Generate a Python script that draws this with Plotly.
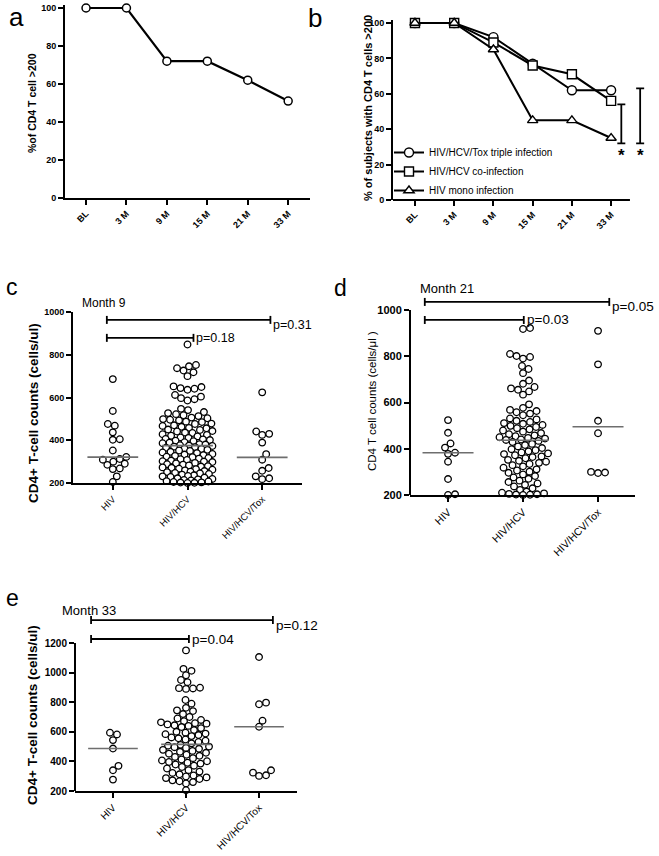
import numpy as np
import plotly.graph_objects as go

W, H = 659, 856
FONT = "Arial, 'Liberation Sans', Helvetica, sans-serif"

# ---------------- data ----------------
timepoints = ["BL", "3 M", "9 M", "15 M", "21 M", "33 M"]
pct_cd4_over200 = [100, 100, 72, 72, 62, 51]
pct_triple = [100, 100, 92, 77, 62, 62]
pct_coinf = [100, 100, 89, 76, 71, 56]
pct_mono = [100, 100, 85, 45, 45, 35]
series_names = ["HIV/HCV/Tox triple infection", "HIV/HCV co-infection", "HIV mono infection"]

groups = ["HIV", "HIV/HCV", "HIV/HCV/Tox"]

m9_hiv = [686, 537, 476, 468, 437, 405, 402, 352, 322, 312, 309, 300, 290, 285, 268, 265, 231, 205]
m9_hcv = [848, 752, 746, 737, 726, 718, 700, 652, 649, 644, 641, 636, 612, 604, 597, 592, 586,
          547, 541, 532, 527, 522, 517, 513, 506, 503, 499, 496,
          493, 487, 485, 478, 476, 470, 467, 463, 458, 456, 450, 448, 443, 441, 436, 434, 428, 425,
          421, 418, 413, 411, 406, 404, 401, 398, 396, 391, 389, 386, 382, 380, 377,
          375, 373, 370, 368, 365, 361, 359, 355, 352, 350, 346, 343, 340, 336, 333, 330, 327, 323,
          321, 317, 314, 311, 308, 305, 302, 300,
          298, 294, 292, 288, 286, 282, 279, 277, 273, 271, 267, 265, 262, 259, 256, 253, 251, 247,
          245, 242, 239, 236, 233, 231, 228, 225, 222, 219, 217, 214, 212, 209, 207, 205, 203, 202, 201, 200]
m9_tox = [624, 441, 430, 425, 389, 335, 309, 270, 257, 231, 222, 218]
m9_medians = [321, 375, 320]
m9_pvals = ["p=0.18", "p=0.31"]

m21_hiv = [524, 469, 423, 405, 383, 378, 344, 269, 203, 200]
m21_hcv = [922, 918, 810, 801, 797, 790, 758, 745, 727, 695, 681, 667, 661, 655, 648, 634, 592, 577,
           568, 563, 558, 552, 545, 531, 527, 521, 516, 511, 508, 503, 499, 494, 489, 484, 479, 474,
           468, 463, 458, 454, 450, 447, 444, 440, 438,
           434, 429, 421, 416, 410, 403, 398, 394, 389, 384, 380, 377, 372, 367, 364, 359, 352, 348,
           344, 339, 334, 329, 324, 318, 311, 306, 301, 296, 289, 282, 276, 270, 262, 256, 250, 244,
           237, 229, 222, 215, 210, 207, 205, 203, 202, 201, 200]
m21_tox = [910, 765, 521, 467, 300, 297, 295]
m21_medians = [383, 437, 495]
m21_pvals = ["p=0.03", "p=0.05"]

m33_hiv = [594, 582, 544, 487, 370, 340, 277]
m33_hcv = [1150, 1025, 1012, 982, 950, 935, 898, 895, 893, 890, 815, 790, 762, 745, 740, 720, 700,
           690, 680, 672, 664, 658, 655, 650, 644, 640, 632, 625, 612, 600, 594, 588, 584, 578, 571,
           562, 556, 548, 540, 531, 522,
           512, 506, 500, 496, 491, 485, 478, 471, 465, 458, 452, 445, 438, 430, 422, 413, 406, 401,
           396, 391, 385, 379, 371, 362, 352, 341, 331, 322, 313, 305, 298, 292, 287, 281, 272, 266,
           260, 251, 205]
m33_tox = [1105, 797, 786, 675, 634, 340, 324, 306, 302]
m33_medians = [487, 515, 634]
m33_pvals = ["p=0.04", "p=0.12"]


# ---------------- helpers ----------------
def xd(p0, p1):
    return [p0 / W, p1 / W]


def yd(top, bottom):
    return [1 - bottom / H, 1 - top / H]


def swarm_offsets(values, ppu_y, diam=6.8, cap=25.0, step=0.5):
    vals = np.asarray(values, float)
    order = np.argsort(vals, kind="stable")
    ys = vals * ppu_y
    cands = [0.0]
    k = step
    while k <= cap + 1e-9:
        cands += [k, -k]
        k += step
    cands = np.array(cands)
    offs = np.zeros(len(vals))
    px, py = [], []
    for idx in order:
        y = ys[idx]
        best = 0.0
        if px:
            apx = np.array(px)
            apy = np.array(py)
            near = np.abs(apy - y) < diam
            if near.any():
                dy2 = (apy[near] - y) ** 2
                d2 = (cands[:, None] - apx[near][None, :]) ** 2 + dy2[None, :]
                mind = d2.min(axis=1)
                ok = np.where(mind >= diam ** 2)[0]
                best = cands[ok[0]] if len(ok) else cands[np.argmax(mind)]
        offs[idx] = best
        px.append(best)
        py.append(y)
    return offs


def base_axis(**kw):
    d = dict(showline=True, linewidth=2, linecolor="black", ticks="outside", ticklen=5,
             tickwidth=2, tickcolor="black", showgrid=False, zeroline=False,
             tickfont=dict(family=FONT, size=9, color="black", weight="bold"))
    d.update(kw)
    return d


fig = go.Figure()
shapes = []
annotations = []

# ---------------- panel a ----------------
fig.add_trace(go.Scatter(
    x=list(range(len(timepoints))), y=pct_cd4_over200, mode="lines+markers",
    line=dict(color="black", width=2.2),
    marker=dict(symbol="circle", size=8, color="white", line=dict(color="black", width=1.5)),
    xaxis="x", yaxis="y", showlegend=False, cliponaxis=False, hoverinfo="skip"))

# ---------------- panel b ----------------
for vals, name, sym in zip([pct_triple, pct_coinf, pct_mono], series_names,
                           ["circle", "square", "triangle-up"]):
    fig.add_trace(go.Scatter(
        x=list(range(len(timepoints))), y=vals, mode="lines+markers", name=name,
        line=dict(color="black", width=2),
        marker=dict(symbol=sym, size=9, color="white", line=dict(color="black", width=1.4)),
        xaxis="x2", yaxis="y2", showlegend=True, cliponaxis=False, hoverinfo="skip"))

# significance brackets on b
for xb, y0, y1 in [(5.26, 32, 54), (5.74, 32, 63)]:
    shapes.append(dict(type="line", xref="x2", yref="y2", x0=xb, x1=xb, y0=y0, y1=y1,
                       line=dict(color="black", width=1.8)))
    for yy in (y0, y1):
        shapes.append(dict(type="line", xref="x2", yref="y2", xsizemode="pixel", xanchor=xb,
                           x0=-4, x1=4, y0=yy, y1=yy, line=dict(color="black", width=1.8)))
    annotations.append(dict(text="<b>*</b>", xref="x2", yref="y2", x=xb, y=y0 - 7,
                            showarrow=False, font=dict(family=FONT, size=17, color="black"),
                            xanchor="center", yanchor="middle"))
# x-axis line of b (stops before the brackets)
shapes.append(dict(type="line", xref="x2", yref="y2 domain", x0=-0.56, x1=5.48, y0=0, y1=0,
                   line=dict(color="black", width=2)))


# ---------------- scatter panels ----------------
def scatter_panel(xa, ya, data, medians, pvals, ppu_x, ppu_y, brackets, xfs):
    for gi, vals in enumerate(data):
        offs = swarm_offsets(vals, ppu_y)
        fig.add_trace(go.Scatter(
            x=gi + offs / ppu_x, y=vals, mode="markers",
            marker=dict(symbol="circle", size=6.6, color="white", line=dict(color="black", width=1.3)),
            xaxis=xa, yaxis=ya, showlegend=False, cliponaxis=False, hoverinfo="skip"))
    for gi, m in enumerate(medians):
        fig.add_trace(go.Scatter(
            x=[gi - 0.34, gi + 0.34], y=[m, m], mode="lines",
            line=dict(color="#6e6e6e", width=1.6),
            xaxis=xa, yaxis=ya, showlegend=False, hoverinfo="skip"))
    for (x0, x1, yb, yshift), ptxt in zip(brackets, pvals):
        shapes.append(dict(type="line", xref=xa, yref=ya, x0=x0, x1=x1, y0=yb, y1=yb,
                           line=dict(color="black", width=1.8)))
        for xx in (x0, x1):
            shapes.append(dict(type="line", xref=xa, yref=ya, ysizemode="pixel", yanchor=yb,
                               x0=xx, x1=xx, y0=-4, y1=4, line=dict(color="black", width=1.8)))
        annotations.append(dict(text=ptxt, xref=xa, yref=ya, x=x1, y=yb, xshift=1, yshift=yshift,
                                showarrow=False, xanchor="left", yanchor="middle",
                                font=dict(family=FONT, size=xfs, color="black")))


# c: month 9
scatter_panel("x3", "y3", [m9_hiv, m9_hcv, m9_tox], m9_medians, m9_pvals,
              ppu_x=75.0, ppu_y=171 / 800,
              brackets=[(-0.08, 1.08, 879, 0), (-0.08, 2.11, 963, -5)], xfs=12.5)
# d: month 21
scatter_panel("x4", "y4", [m21_hiv, m21_hcv, m21_tox], m21_medians, m21_pvals,
              ppu_x=75.0, ppu_y=185 / 800,
              brackets=[(-0.31, 1.01, 957, 0), (-0.31, 2.15, 1035, -5)], xfs=13.5)
# e: month 33
scatter_panel("x5", "y5", [m33_hiv, m33_hcv, m33_tox], m33_medians, m33_pvals,
              ppu_x=73.0, ppu_y=148 / 1000,
              brackets=[(-0.30, 1.04, 1227, 0), (-0.30, 2.19, 1355, -5)], xfs=13.5)

# y-axis lines for d and e (axes extend above the top tick to hold the brackets)
shapes.append(dict(type="line", xref="x4 domain", yref="y4", x0=0, x1=0, y0=200, y1=1000,
                   line=dict(color="black", width=2)))
shapes.append(dict(type="line", xref="x5 domain", yref="y5", x0=0, x1=0, y0=200, y1=1200,
                   line=dict(color="black", width=2)))


# ---------------- text annotations ----------------
def pa(text, x, y, size, bold=False, angle=0, xanchor="center", yanchor="middle"):
    annotations.append(dict(text=("<b>%s</b>" % text) if bold else text, xref="paper", yref="paper",
                            x=x / W, y=1 - y / H, showarrow=False, textangle=angle,
                            xanchor=xanchor, yanchor=yanchor,
                            font=dict(family=FONT, size=size, color="black")))


pa("a", 16, 0, 26, yanchor="top")
pa("b", 315, 1, 26, yanchor="top")
pa("c", 12, 287, 23)
pa("d", 340, 288, 23)
pa("e", 12, 598, 23)

pa("%of CD4 T cell &gt;200", 32, 103, 10.5, bold=True, angle=-90)
pa("% of subjects with CD4 T cells &gt;200", 368, 108, 11, bold=True, angle=-90)
pa("CD4+ T-cell counts (cells/ul)", 34, 413, 13.5, bold=True, angle=-90)
pa("CD4 T cell counts (cells/\u03bcl )", 372, 401, 11.5, angle=-90)
pa("CD4+ T-cell counts (cells/ul)", 32, 715, 13.5, bold=True, angle=-90)

pa("Month 9", 80, 303, 12, xanchor="left")
pa("Month 21", 418, 288, 13, xanchor="left")
pa("Month 33", 60, 610, 13, xanchor="left")

# ---------------- layout ----------------
cat_ticks = dict(tickvals=list(range(len(groups))), ticktext=groups, tickangle=-45)
tp_ticks = dict(tickvals=list(range(len(timepoints))), ticktext=timepoints, tickangle=-45)

fig.update_layout(
    template="none",
    width=W, height=H, margin=dict(l=0, r=0, t=0, b=0),
    paper_bgcolor="white", plot_bgcolor="white",
    font=dict(family=FONT, color="black"),
    showlegend=True,
    legend=dict(x=389 / W, y=1 - 138 / H, xanchor="left", yanchor="top",
                bgcolor="rgba(0,0,0,0)", font=dict(family=FONT, size=10, color="black"),
                tracegroupgap=0, itemwidth=30, borderwidth=0),
    xaxis=base_axis(domain=xd(65, 310), range=[-0.52, 5.54], anchor="y", **tp_ticks),
    yaxis=base_axis(domain=yd(5.15, 198), range=[0, 101.5], anchor="x",
                    tickvals=[0, 20, 40, 60, 80, 100]),
    xaxis2=base_axis(domain=xd(393, 648), range=[-0.56, 5.94], anchor="y2", showline=False,
                     **tp_ticks),
    yaxis2=base_axis(domain=yd(20.3, 200), range=[0, 101.5], anchor="x2",
                     tickvals=[0, 20, 40, 60, 80, 100]),
    xaxis3=base_axis(domain=xd(73, 302), range=[-0.533, 2.533], anchor="y3",
                     tickfont=dict(family=FONT, size=9.5, color="black"), **cat_ticks),
    yaxis3=base_axis(domain=yd(312, 483), range=[200, 1000], anchor="x3",
                     tickvals=[200, 400, 600, 800, 1000]),
    xaxis4=base_axis(domain=xd(410, 635), range=[-0.507, 2.493], anchor="y4",
                     tickfont=dict(family=FONT, size=10.5, color="black"), **cat_ticks),
    yaxis4=base_axis(domain=yd(295, 495), range=[200, 1065], anchor="x4", showline=False,
                     tickvals=[200, 400, 600, 800, 1000],
                     tickfont=dict(family=FONT, size=11, color="black", weight="bold")),
    xaxis5=base_axis(domain=xd(75, 297), range=[-0.52, 2.52], anchor="y5",
                     tickfont=dict(family=FONT, size=10, color="black"), **cat_ticks),
    yaxis5=base_axis(domain=yd(612, 791), range=[200, 1409.5], anchor="x5", showline=False,
                     tickvals=[200, 400, 600, 800, 1000, 1200],
                     tickfont=dict(family=FONT, size=10, color="black", weight="bold")),
    shapes=shapes,
    annotations=annotations,
)

fig.write_html("out.html", config={"displayModeBar": False},
               post_script="document.body.style.margin='0px';document.body.style.padding='0px';")
